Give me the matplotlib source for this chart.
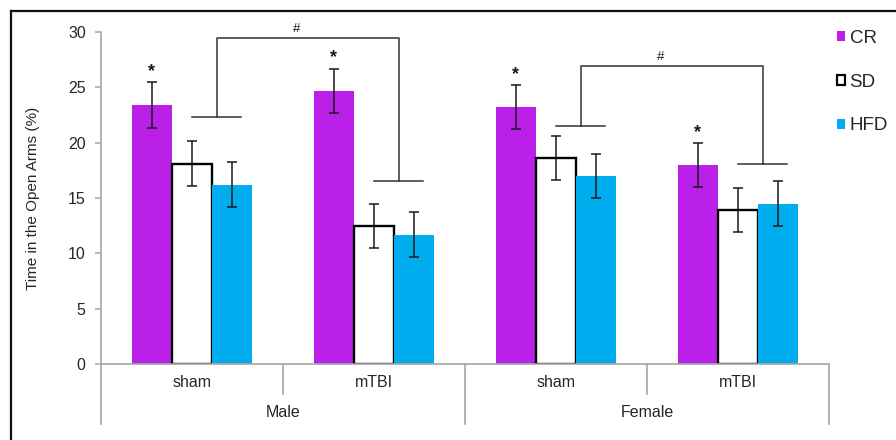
import matplotlib
matplotlib.use('Agg')
import matplotlib.pyplot as plt
from matplotlib.patches import Patch
from matplotlib.lines import Line2D

plt.rcParams['font.family'] = ['Liberation Sans', 'DejaVu Sans']

# ---------------- data ----------------
sexes = ['Male', 'Female']
conditions = ['sham', 'mTBI', 'sham', 'mTBI']
diets = ['CR', 'SD', 'HFD']
cr = [23.4, 24.7, 23.2, 18.0]
sd = [18.1, 12.5, 18.6, 13.9]
hfd = [16.2, 11.7, 17.0, 14.5]
cr_err = [2.05, 2.0, 2.0, 2.0]
sd_err = [2.05, 2.0, 2.0, 2.0]
hfd_err = [2.05, 2.0, 2.0, 2.0]
star_cats = [0, 1, 2, 3]
# bracket levels: (sham level, mTBI level, top level) per sex
brackets = [(22.3, 16.5, 29.5), (21.5, 18.1, 26.9)]
y_ticks = [0, 5, 10, 15, 20, 25, 30]

# ---------------- styles ----------------
c_cr = '#BB20E8'
c_hfd = '#00AEEF'
axis_gray = '#A6A6A6'
text_col = '#262626'

W, H = 896, 440
fig = plt.figure(figsize=(W / 100, H / 100), dpi=100)
ax = fig.add_axes([101 / W, (H - 364) / H, 728 / W, 332 / H])

bw = 0.22
xs = [i + 0.5 for i in range(len(conditions))]
ekw = dict(ecolor='#1a1a1a', elinewidth=1.1, capsize=3.6, capthick=1.1)
ax.bar([x - bw for x in xs], cr, bw, color=c_cr, yerr=cr_err, error_kw=ekw, zorder=2)
ax.bar(xs, sd, bw, facecolor='white', edgecolor='black', linewidth=1.7,
       yerr=sd_err, error_kw=ekw, zorder=2)
ax.bar([x + bw for x in xs], hfd, bw, color=c_hfd, yerr=hfd_err, error_kw=ekw, zorder=2)

ax.set_xlim(0, len(conditions))
ax.set_ylim(0, 30)
ax.set_yticks(y_ticks)
ax.set_xticks([])
for s in ['top', 'right']:
    ax.spines[s].set_visible(False)
for s in ['left', 'bottom']:
    ax.spines[s].set_color(axis_gray)
    ax.spines[s].set_linewidth(1.2)
ax.tick_params(axis='y', colors=axis_gray, labelcolor=text_col, labelsize=11.5,
               length=4, width=1.1, pad=7)
ax.set_ylabel('Time in the Open Arms (%)', fontsize=11, color=text_col)
ax.yaxis.set_label_coords(-0.084, 0.5)

# asterisks above CR bars
for i in star_cats:
    ax.text(xs[i] - bw, cr[i] + cr_err[i] + 0.95, '*', ha='center', va='center',
            fontsize=13, fontweight='bold', color='#1a1a1a')

# brackets
lk = dict(color='#333333', linewidth=1.1, clip_on=False)
for k, (lv_a, lv_b, top) in enumerate(brackets):
    segs = []
    for j, lv in zip((2 * k, 2 * k + 1), (lv_a, lv_b)):
        x0 = xs[j]
        x1 = xs[j] + bw + 0.05
        ax.plot([x0, x1], [lv, lv], **lk)
        xm = (x0 + x1) / 2
        segs.append((xm, lv))
    (xa, la), (xb, lb) = segs
    ax.plot([xa, xa, xb, xb], [la, top, top, lb], **lk)
    ax.text((xa + xb) / 2 - 0.06, top + 0.8, '#', ha='center', va='center',
            fontsize=9.5, color='#1a1a1a', clip_on=False)

# category axis below
tr = ax.get_xaxis_transform()
for i in range(len(conditions) + 1):
    depth = 0.181 if i % 2 == 0 else 0.090
    ax.plot([i, i], [0, -depth], transform=tr, color=axis_gray, linewidth=1.2, clip_on=False)
for i, c in enumerate(conditions):
    ax.text(xs[i], -0.057, c, transform=tr, ha='center', va='center',
            fontsize=11.5, color=text_col)
for k, s in enumerate(sexes):
    ax.text(2 * k + 1, -0.145, s, transform=tr, ha='center', va='center',
            fontsize=11.5, color=text_col)

# legend
handles = [Patch(facecolor=c_cr, edgecolor=c_cr, linewidth=0),
           Patch(facecolor='white', edgecolor='black', linewidth=1.6),
           Patch(facecolor=c_hfd, edgecolor=c_hfd, linewidth=0)]
leg = fig.legend(handles, diets, loc='upper left', bbox_to_anchor=(837 / W, 1 - 30 / H),
                 frameon=False, fontsize=13.5, handlelength=0.45, handleheight=0.45,
                 handletextpad=0.22, labelspacing=1.42, borderpad=0, borderaxespad=0)
for t in leg.get_texts():
    t.set_color(text_col)

# outer frame (left and top edges visible)
fig.add_artist(Line2D([11 / W, 11 / W], [0, 1 - 11 / H], color='#111111', linewidth=1.6,
                      transform=fig.transFigure))
fig.add_artist(Line2D([11 / W, 1], [1 - 11 / H, 1 - 11 / H], color='#111111', linewidth=1.6,
                      transform=fig.transFigure))

fig.savefig('out.png', dpi=100)
